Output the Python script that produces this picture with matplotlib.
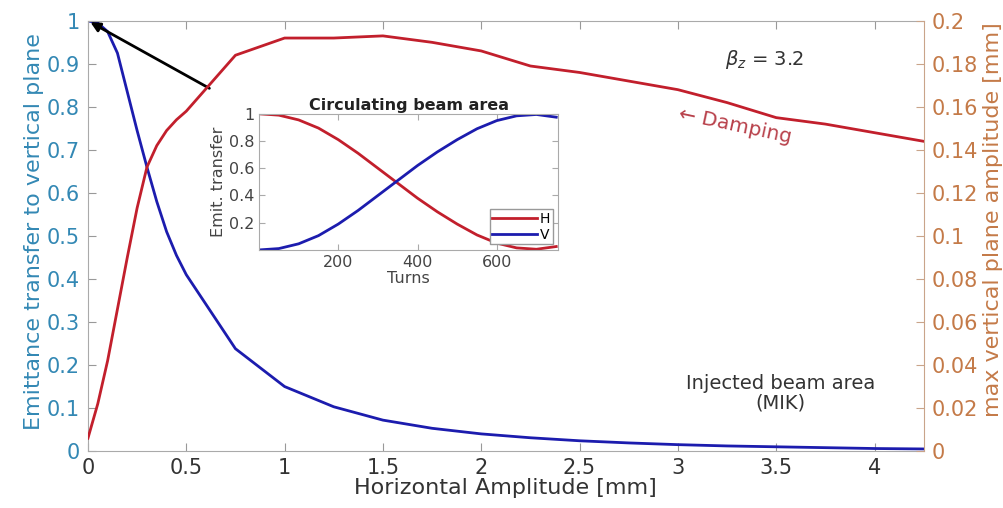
import numpy as np
import matplotlib
matplotlib.use('Agg')
import matplotlib.pyplot as plt

# horizontal amplitude [mm]
amp = [0, 0.05, 0.1, 0.15, 0.2, 0.25, 0.3, 0.35, 0.4, 0.45, 0.5, 0.75, 1.0,
       1.25, 1.5, 1.75, 2.0, 2.25, 2.5, 2.75, 3.0, 3.25, 3.5, 3.75, 4.0, 4.25]
# emittance transfer to vertical plane (left axis)
emit_transfer = [1.0, 0.995, 0.975, 0.925, 0.835, 0.745, 0.66, 0.58, 0.51, 0.455, 0.41,
                 0.238, 0.15, 0.103, 0.072, 0.053, 0.04, 0.031, 0.024, 0.019,
                 0.015, 0.012, 0.01, 0.008, 0.006, 0.005]
# max vertical plane amplitude [mm] (right axis)
vert_amp = [0.006, 0.022, 0.042, 0.066, 0.09, 0.113, 0.132, 0.142, 0.149, 0.154, 0.158,
            0.184, 0.192, 0.192, 0.193, 0.19, 0.186, 0.179, 0.176, 0.172,
            0.168, 0.162, 0.155, 0.152, 0.148, 0.144]

# circulating beam: emittance exchange over turns
turns = [0, 50, 100, 150, 200, 250, 300, 350, 400, 450, 500, 550, 600, 650, 700, 750]
emit_h = [1.0, 0.99, 0.955, 0.895, 0.81, 0.71, 0.6, 0.49, 0.38, 0.28, 0.19, 0.11,
          0.05, 0.015, 0.005, 0.025]
emit_v = [1 - h for h in emit_h]

left_col = '#3388b4'
right_col = '#c47a48'
red = '#c21f2c'
blue = '#1c1cae'
grey = '#333333'

fig = plt.figure(figsize=(10.04, 5.08), dpi=100)
ax = fig.add_axes([0.0876, 0.112, 0.8324, 0.847])
ax.plot(amp, emit_transfer, color=blue, lw=2)
ax.set_xlim(0, 4.25)
ax.set_ylim(0, 1)
ax.set_xticks([0, 0.5, 1, 1.5, 2, 2.5, 3, 3.5, 4])
ax.set_xticklabels(['0', '0.5', '1', '1.5', '2', '2.5', '3', '3.5', '4'])
ax.set_yticks(np.arange(0, 1.01, 0.1))
ax.set_yticklabels(['0', '0.1', '0.2', '0.3', '0.4', '0.5', '0.6', '0.7', '0.8', '0.9', '1'])
ax.tick_params(axis='x', direction='in', top=True, labelsize=15, colors='#999999',
               labelcolor=grey, length=6, pad=5)
ax.tick_params(axis='y', direction='in', labelsize=15, colors='#999999',
               labelcolor=left_col, length=6, pad=6)
ax.set_xlabel('Horizontal Amplitude [mm]', fontsize=16, color=grey, labelpad=0)
ax.set_ylabel('Emittance transfer to vertical plane', fontsize=16, color=left_col, labelpad=2)
ax.yaxis.label.set_y(0.51)
for s in ['top', 'bottom', 'left']:
    ax.spines[s].set_color('#aaaaaa')
ax.spines['right'].set_visible(False)

ax2 = ax.twinx()
ax2.plot(amp, vert_amp, color=red, lw=2)
ax2.set_ylim(0, 0.2)
ax2.set_yticks(np.arange(0, 0.201, 0.02))
ax2.set_yticklabels(['0', '0.02', '0.04', '0.06', '0.08', '0.1', '0.12', '0.14',
                     '0.16', '0.18', '0.2'])
ax2.tick_params(axis='y', direction='in', labelsize=15, colors='#c9a48a',
                labelcolor=right_col, length=6, pad=6)
ax2.set_ylabel('max vertical plane amplitude [mm]', fontsize=16, color=right_col, labelpad=3)
ax2.yaxis.label.set_y(0.537)
for s in ['top', 'bottom', 'left']:
    ax2.spines[s].set_visible(False)
ax2.spines['right'].set_color('#c9a48a')

ax.annotate('', xy=(0, 1), xytext=(0.63, 0.84),
            arrowprops=dict(arrowstyle='-|>', color='black', lw=2, mutation_scale=14))
ax.text(3.44, 0.91, r'$\beta_z$ = 3.2', fontsize=14, color=grey, ha='center', va='center')
ax.text(3.29, 0.757, '\u2190 Damping', fontsize=14.5, color='#b8404a', ha='center',
        va='center', rotation=-12)
ax.text(3.52, 0.135, 'Injected beam area\n(MIK)', fontsize=14, color=grey,
        ha='center', va='center', linespacing=1.05)

# inset: circulating beam area
ins = fig.add_axes([0.258, 0.508, 0.298, 0.268])
ins.plot(turns, emit_h, color=red, lw=2, label='H')
ins.plot(turns, emit_v, color=blue, lw=2, label='V')
ins.set_xlim(0, 755)
ins.set_ylim(0, 1)
ins.set_xticks([200, 400, 600])
ins.set_yticks([0.2, 0.4, 0.6, 0.8, 1])
ins.set_yticklabels(['0.2', '0.4', '0.6', '0.8', '1'])
ins.tick_params(direction='in', labelsize=11.5, colors='#aaaaaa', labelcolor='#444444',
                top=True, right=True, length=4)
for s in ins.spines.values():
    s.set_color('#aaaaaa')
ins.set_xlabel('Turns', fontsize=11.5, color='#444444', labelpad=1)
ins.set_ylabel('Emit. transfer', fontsize=11.5, color='#444444', labelpad=2)
ins.set_title('Circulating beam area', fontsize=11.5, fontweight='bold', color='#222222', pad=3)
leg = ins.legend(loc='lower right', fontsize=10, handlelength=3.2, borderpad=0.2,
                 labelspacing=0.15, handletextpad=0.2, fancybox=False, framealpha=1,
                 borderaxespad=0.4)
leg.get_frame().set_edgecolor('#999999')

fig.savefig('out.png', dpi=100)
